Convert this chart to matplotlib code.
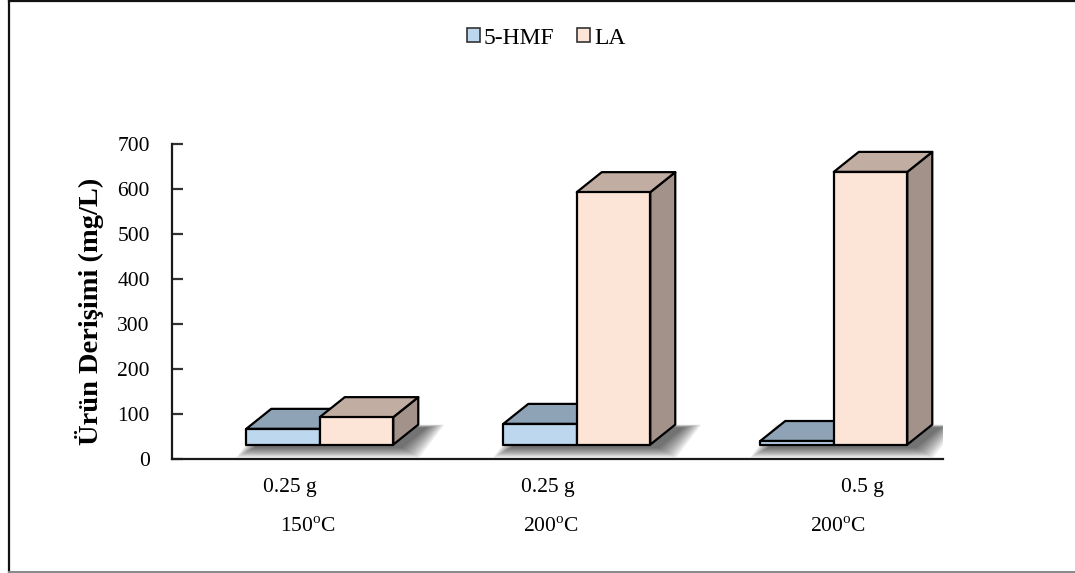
import matplotlib
matplotlib.use("Agg")
import matplotlib.pyplot as plt
from matplotlib.patches import Polygon, Patch
from matplotlib.lines import Line2D
import numpy as np

plt.rcParams['font.family'] = ['Liberation Serif', 'DejaVu Serif']
plt.rcParams['mathtext.fontset'] = 'custom'
plt.rcParams['mathtext.rm'] = 'Liberation Serif'

# data (front top of each bar against the axis)
categories_mass = ['0.25 g', '0.25 g', '0.5 g']
categories_temp = ['150$^{\\mathrm{o}}$C', '200$^{\\mathrm{o}}$C', '200$^{\\mathrm{o}}$C']
series_names = ['5-HMF', 'LA']
hmf = [67, 78, 40]
la = [93, 593, 638]
yticks = [0, 100, 200, 300, 400, 500, 600, 700]

# look
front_cols = ['#BDD7EE', '#FCE4D6']
top_cols = ['#8EA3B6', '#C2ADA2']
side_cols = ['#7F93A4', '#A3928A']
floor = 32          # bars stand on a raised 3d floor
bar_w = 0.286
shift = 0.075
DX = 25 / 257.0     # depth, x
DY = 20 * 700 / 315.0  # depth, y

fig = plt.figure(figsize=(10.75, 5.73), dpi=100)
ax = fig.add_axes([172 / 1075, 1 - 459 / 573, 771 / 1075, 315 / 573])
ax.set_xlim(0, 3)
ax.set_ylim(0, 700)


def box(x0, top, fc, tc, sc, z):
    x1 = x0 + bar_w
    front = [(x0, floor), (x1, floor), (x1, top), (x0, top)]
    topf = [(x0, top), (x1, top), (x1 + DX, top + DY), (x0 + DX, top + DY)]
    side = [(x1, floor), (x1 + DX, floor + DY), (x1 + DX, top + DY), (x1, top)]
    for pts, c in [(side, sc), (topf, tc), (front, fc)]:
        ax.add_patch(Polygon(pts, closed=True, facecolor=c, edgecolor='black',
                             lw=1.6, joinstyle='round', zorder=z))


def shadow(xl, xr):
    px = 1 / 257.0
    py = 700 / 315.0
    for m in np.linspace(18, 1, 10):
        mx = m * px
        my = m * 0.55 * py
        ox = 8 * px
        oy = -3 * py
        pts = [(xl - mx + ox, floor - my + oy), (xr + mx + ox, floor - my + oy),
               (xr + DX + mx + ox, floor + DY + my * 0.3 + oy),
               (xl + DX - mx + ox, floor + DY + my * 0.3 + oy)]
        ax.add_patch(Polygon(pts, closed=True, facecolor='black', edgecolor='none',
                             alpha=0.075, zorder=1))


for i in range(3):
    c = i + 0.5
    x_h = c + shift - bar_w
    x_l = c + shift
    shadow(x_h, x_l + bar_w)
    box(x_h, hmf[i], front_cols[0], top_cols[0], side_cols[0], 3 + 2 * i)
    box(x_l, la[i], front_cols[1], top_cols[1], side_cols[1], 4 + 2 * i)

for s in ['top', 'right']:
    ax.spines[s].set_visible(False)
ax.spines['left'].set_linewidth(1.6)
ax.spines['bottom'].set_linewidth(1.6)
ax.spines['left'].set_color('#1a1a1a')
ax.spines['bottom'].set_color('#1a1a1a')
ax.set_yticks(yticks)
ax.set_yticklabels([str(v) for v in yticks])
ax.tick_params(axis='y', direction='in', length=8, width=1.6, pad=16,
               labelsize=15.5, color='#333333')
ax.set_xticks([])

# category labels (placed as in the source, not centred)
off1 = [-0.041, -0.037, 0.185]
off2 = [0.029, -0.025, 0.091]
for i in range(3):
    ax.text(i + 0.5 + off1[i], -64, categories_mass[i], ha='center', va='center',
            fontsize=15.5, clip_on=False)
    ax.text(i + 0.5 + off2[i], -152, categories_temp[i], ha='center', va='center',
            fontsize=15.5, clip_on=False)

fig.text(90 / 1075, 1 - 311 / 573, 'Ürün Derişimi (mg/L)', rotation=90,
         ha='center', va='center', fontsize=20.5, fontweight='bold')

handles = [Patch(facecolor=front_cols[k], edgecolor='#333333', lw=1.2)
           for k in range(2)]
fig.legend(handles, series_names, loc='center', bbox_to_anchor=(546 / 1075, 1 - 38 / 573),
           ncol=2, frameon=False, fontsize=17, handlelength=0.55, handleheight=0.55,
           handletextpad=0.15, columnspacing=1.0)

# frame around the picture
fig.add_artist(Line2D([8.5 / 1075, 8.5 / 1075], [0, 1], color='#111111', lw=1.6))
fig.add_artist(Line2D([8.5 / 1075, 1], [1 - 0.8 / 573, 1 - 0.8 / 573], color='#111111', lw=1.6))
fig.add_artist(Line2D([8.5 / 1075, 1], [1.2 / 573, 1.2 / 573], color='#888888', lw=1.4))

fig.savefig('out.png', dpi=100)
